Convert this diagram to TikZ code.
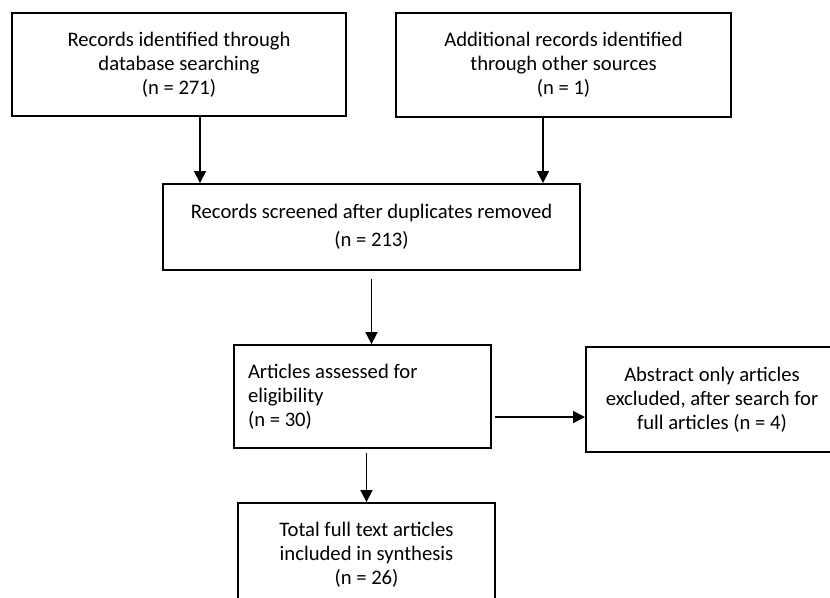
\documentclass[tikz,border=0pt]{standalone}
\usepackage{fontspec}
\setmainfont{Carlito}
\usetikzlibrary{arrows.meta}

\begin{document}
\begin{tikzpicture}[x=0.75pt,y=-0.75pt,
  box/.style={draw, line width=1.4pt, align=center, inner sep=0pt,
    font=\fontsize{15.5}{18}\selectfont},
  flow/.style={line width=1.3pt, -{Triangle[width=9pt,length=9pt]}}]
\clip (0,0) rectangle (830,598);
\useasboundingbox (0,0) rectangle (830,598);

% sources
\node [box, minimum width=250.5pt, minimum height=77.25pt] (dbrec) at (179,64.5)
  {Records identified through\\database searching\\(n = 271)};
\node [box, minimum width=251.25pt, minimum height=78pt] (otherrec) at (563.5,65)
  {Additional records identified\\through other sources\\(n = 1)};

% screening
\node [box, minimum width=312.75pt, minimum height=64.5pt] (screened) at (371.5,227)
  {Records screened after duplicates removed\\[3pt](n = 213)};

% eligibility
\node [box, align=flush left, text width=171.75pt, inner xsep=10.5pt, minimum height=77.25pt] (assessed) at (362.5,396.5)
  {Articles assessed for\\eligibility\\(n = 30)};
\node [box, minimum width=189pt, minimum height=78.75pt] (excluded) at (712,399.5)
  {Abstract only articles\\excluded, after search for\\full articles (n = 4)};

% included
\node [box, minimum width=192.75pt, minimum height=78pt] (included) at (366.5,555)
  {Total full text articles\\included in synthesis\\(n = 26)};

\draw [flow] ([xshift=15.75pt]dbrec.south) -- ([xshift=15.75pt]dbrec.south |- screened.north);
\draw [flow] ([xshift=-15.4pt]otherrec.south) -- ([xshift=-15.4pt]otherrec.south |- screened.north);
\draw [flow] ([yshift=-6pt]screened.south) -- (screened.south |- assessed.north);
\draw [flow] ([xshift=2.25pt,yshift=-15.4pt]assessed.east) -- ([yshift=-15.4pt]assessed.east -| excluded.west);
\draw [flow] ([yshift=-3pt]assessed.south -| included.north) -- (included.north);

\end{tikzpicture}
\end{document}
